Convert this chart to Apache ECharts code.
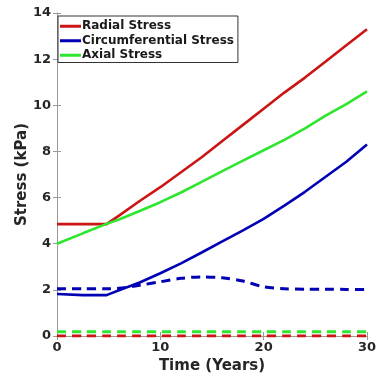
<!DOCTYPE html>
<html>
<head>
<meta charset="utf-8">
<script src="https://cdn.jsdelivr.net/npm/echarts@6/dist/echarts.min.js"></script>
<style>html,body{margin:0;padding:0;background:#fff;}#c{width:390px;height:380px;}</style>
</head>
<body>
<div id="c"></div>
<script>
const time = [0, 2.5, 4.8, 6, 8, 10, 12, 14, 16, 18, 20, 22, 24, 26, 28, 30];
const radial = [4.85, 4.85, 4.85, 5.22, 5.85, 6.45, 7.1, 7.75, 8.45, 9.15, 9.85, 10.55, 11.2, 11.9, 12.6, 13.3];
const axial = [4.0, 4.45, 4.86, 5.05, 5.42, 5.8, 6.22, 6.68, 7.15, 7.6, 8.05, 8.5, 9.0, 9.55, 10.05, 10.6];
const circumferential = [1.82, 1.77, 1.77, 1.98, 2.32, 2.72, 3.15, 3.62, 4.1, 4.58, 5.08, 5.65, 6.25, 6.9, 7.55, 8.3];
const circumferentialDashed = [2.05, 2.05, 2.05, 2.07, 2.2, 2.35, 2.5, 2.56, 2.52, 2.38, 2.13, 2.05, 2.03, 2.03, 2.02, 2.02];
const axialDashed = [0.18, 0.18, 0.18, 0.18, 0.18, 0.18, 0.18, 0.18, 0.18, 0.18, 0.18, 0.18, 0.18, 0.18, 0.18, 0.18];
const radialDashed = [0, 0, 0, 0, 0, 0, 0, 0, 0, 0, 0, 0, 0, 0, 0, 0];
const xTicks = [0, 10, 20, 30];
const yTicks = [0, 2, 4, 6, 8, 10, 12, 14];
const names = ['Radial Stress', 'Circumferential Stress', 'Axial Stress'];

const RED = '#cc1414', BLUE = '#0000b4', GREEN = '#2ee62e';
const pair = arr => time.map((t, i) => [t, arr[i]]);
const font = 'DejaVu Sans';
const axisCol = '#9a9a9a';

function solid(name, arr, color) {
  return { name, type: 'line', data: pair(arr), showSymbol: false, symbol: 'none', smooth: false,
    lineStyle: { color, width: 2.6 }, itemStyle: { color }, z: 3 };
}
function dashed(name, arr, color) {
  return { name, type: 'line', data: pair(arr), showSymbol: false, symbol: 'none', smooth: 0.3,
    lineStyle: { color, width: 3, type: [9, 6] }, itemStyle: { color }, z: 2 };
}

const chart = echarts.init(document.getElementById('c'), null, { renderer: 'canvas' });
const baseX = { type: 'value', min: 0, max: 30, interval: 10 };
const baseY = { type: 'value', min: 0, max: 14, interval: 2 };
chart.setOption({
  animation: false,
  backgroundColor: '#fff',
  grid: { left: 57, right: 23, top: 13, bottom: 44, containLabel: false },
  legend: {
    data: names, orient: 'vertical', left: 58, top: 16,
    icon: 'rect', itemWidth: 21, itemHeight: 3, itemGap: 0,
    padding: [3, 4, 0, 2], borderColor: '#333', borderWidth: 1, backgroundColor: '#fff',
    textStyle: { fontFamily: font, fontWeight: 'bold', fontSize: 12, lineHeight: 14.5, color: '#1a1a1a', padding: [0, 0, 0, -4] }
  },
  xAxis: [
    Object.assign({}, baseX, {
      name: 'Time (Years)', nameLocation: 'middle', nameGap: 23, nameMoveOverlap: false,
      nameTextStyle: { fontFamily: font, fontWeight: 'bold', fontSize: 15, color: '#262626' },
      axisLine: { show: true, lineStyle: { color: axisCol, width: 1 } },
      axisTick: { show: true, inside: true, length: 4, lineStyle: { color: axisCol } },
      axisLabel: { fontFamily: font, fontWeight: 'bold', fontSize: 13, color: '#262626', margin: 5,
        customValues: xTicks },
      splitLine: { show: false }
    }),
    Object.assign({}, baseX, {
      position: 'top',
      axisLine: { show: true, lineStyle: { color: axisCol, width: 1 } },
      axisTick: { show: true, inside: true, length: 4, lineStyle: { color: axisCol } },
      axisLabel: { show: false }, splitLine: { show: false }
    })
  ],
  yAxis: [
    Object.assign({}, baseY, {
      name: 'Stress (kPa)', nameLocation: 'middle', nameGap: 27, nameMoveOverlap: false,
      nameTextStyle: { fontFamily: font, fontWeight: 'bold', fontSize: 15, color: '#262626' },
      axisLine: { show: true, lineStyle: { color: axisCol, width: 1 } },
      axisTick: { show: true, inside: true, length: 4, lineStyle: { color: axisCol } },
      axisLabel: { fontFamily: font, fontWeight: 'bold', fontSize: 13, color: '#262626', margin: 6,
        customValues: yTicks },
      splitLine: { show: false }
    }),
    Object.assign({}, baseY, {
      position: 'right',
      axisLine: { show: true, lineStyle: { color: axisCol, width: 1 } },
      axisTick: { show: true, inside: true, length: 4, lineStyle: { color: axisCol } },
      axisLabel: { show: false }, splitLine: { show: false }
    })
  ],
  series: [
    solid(names[0], radial, RED),
    solid(names[1], circumferential, BLUE),
    solid(names[2], axial, GREEN),
    dashed('Circumferential (dashed)', circumferentialDashed, BLUE),
    dashed('Axial (dashed)', axialDashed, GREEN),
    dashed('Radial (dashed)', radialDashed, RED)
  ]
});
</script>
</body>
</html>
